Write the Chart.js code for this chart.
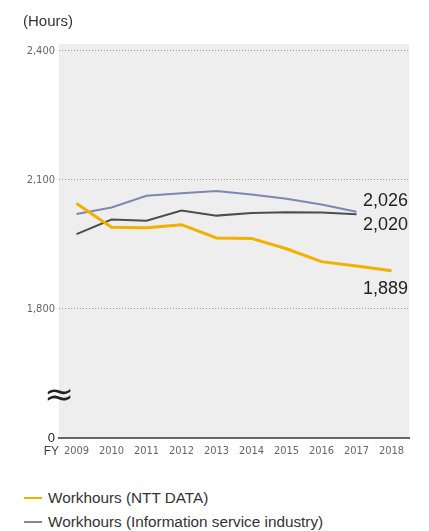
<!DOCTYPE html>
<html>
<head>
<meta charset="utf-8">
<script src="https://cdn.jsdelivr.net/npm/chart.js@4/dist/chart.umd.min.js"></script>
<style>
  html, body { margin: 0; padding: 0; background: #fff; }
  #wrap { position: relative; width: 429px; height: 531px; overflow: hidden; font-family: "Liberation Sans", Arial, sans-serif; }
  #unit { position: absolute; left: 23px; top: 12px; font-size: 15px; color: #333; }
  #chartBox { position: absolute; left: 0; top: 0; width: 429px; height: 470px; }
  .leg { position: absolute; left: 24px; font-size: 15.3px; color: #333; white-space: nowrap; line-height: 17px; }
  .leg span.sw { display: inline-block; width: 18px; height: 2px; vertical-align: middle; margin-right: 6px; position: relative; top: -1px; }
</style>
</head>
<body>
<div id="wrap">
  <div id="chartBox"><canvas id="c" width="429" height="470"></canvas></div>
  <div id="unit">(Hours)</div>
  <div id="legend"></div>
</div>
<script>
// ---- data ----
const years = ['2009','2010','2011','2012','2013','2014','2015','2016','2017','2018'];
const nttData = [2045, 1990, 1989, 1996, 1965, 1964, 1940, 1910, 1900, 1889];
const industry = [2021, 2036, 2063, 2069, 2074, 2066, 2056, 2043, 2026, null];
const otherSeries = [1974, 2008, 2005, 2029, 2017, 2023, 2025, 2024, 2020, null];
const seriesNames = ['Workhours (NTT DATA)', 'Workhours (Information service industry)', 'Workhours (other)'];
const yTickValues = [1500, 1800, 2100, 2400];
const yTickLabels = ['0', '1,800', '2,100', '2,400'];

const colors = ['#F4B000', '#7D87B2', '#4D4D4D'];
const narrow = '"Liberation Sans Narrow", "DejaVu Sans Condensed", sans-serif';

const bgPlugin = {
  id: 'bg',
  beforeDraw(chart) {
    const a = chart.chartArea, ctx = chart.ctx;
    ctx.save();
    ctx.fillStyle = '#eeeeee';
    ctx.fillRect(a.left, a.top, a.right - a.left, a.bottom - a.top);
    ctx.restore();
  }
};

const extrasPlugin = {
  id: 'extras',
  afterDraw(chart) {
    const ctx = chart.ctx, a = chart.chartArea;
    const ys = chart.scales.y;
    ctx.save();
    // break symbol
    ctx.fillStyle = '#222';
    ctx.translate(59, 397);
    ctx.scale(1.8, 1.6);
    ctx.font = '20px "DejaVu Sans", sans-serif';
    ctx.textAlign = 'center';
    ctx.textBaseline = 'middle';
    ctx.fillText('\u2248', 0, 0);
    ctx.restore();
    ctx.save();
    // FY label
    ctx.font = '12px "Liberation Sans", Arial, sans-serif';
    ctx.fillStyle = '#444';
    ctx.textAlign = 'right';
    ctx.textBaseline = 'middle';
    ctx.fillText('FY', 59, a.bottom + 14);
    // end labels
    const offs = [18, -11, 11];
    ctx.font = '18px "Liberation Sans", Arial, sans-serif';
    ctx.fillStyle = '#222';
    ctx.textAlign = 'right';
    chart.data.datasets.forEach((ds, i) => {
      let last = null;
      for (let k = ds.data.length - 1; k >= 0; k--) { if (ds.data[k] != null) { last = ds.data[k]; break; } }
      if (last == null) return;
      const y = ys.getPixelForValue(last) + offs[i];
      ctx.fillText(last.toLocaleString('en-US'), a.right - 1, y);
    });
    ctx.restore();
  }
};

new Chart(document.getElementById('c'), {
  type: 'line',
  data: {
    labels: years,
    datasets: [
      { label: seriesNames[0], data: nttData, borderColor: colors[0], borderWidth: 3, pointRadius: 0, tension: 0 },
      { label: seriesNames[1], data: industry, borderColor: colors[1], borderWidth: 2, pointRadius: 0, tension: 0 },
      { label: seriesNames[2], data: otherSeries, borderColor: colors[2], borderWidth: 2, pointRadius: 0, tension: 0 }
    ]
  },
  options: {
    responsive: false,
    animation: false,
    layout: { padding: { left: 0, right: 20, top: 44, bottom: 12 } },
    plugins: { legend: { display: false }, tooltip: { enabled: false }, title: { display: false } },
    scales: {
      x: {
        offset: true,
        grid: { display: false, drawTicks: false },
        border: { display: true, color: '#666', width: 2 },
        ticks: { color: '#666', font: { family: narrow, size: 11 }, padding: 7, maxRotation: 0, autoSkip: false },
        afterFit(s) { s.height = 20; }
      },
      y: {
        min: 1500, max: 2416,
        afterBuildTicks(s) { s.ticks = yTickValues.map(v => ({ value: v })); },
        afterFit(s) { s.width = 59; },
        grid: { drawTicks: false, color: ctx => (ctx.tick && ctx.tick.value === 1500) ? 'rgba(0,0,0,0)' : '#9a9a9a', lineWidth: 1 },
        border: { display: false, dash: [1, 2] },
        ticks: {
          padding: 4,
          color: ctx => ctx.tick && ctx.tick.value === 1500 ? '#222' : '#666',
          font: ctx => ctx.tick && ctx.tick.value === 1500 ? { family: '"Liberation Sans", Arial, sans-serif', size: 13 } : { family: narrow, size: 11 },
          callback: (v) => { const i = yTickValues.indexOf(v); return i >= 0 ? yTickLabels[i] : ''; }
        }
      }
    }
  },
  plugins: [bgPlugin, extrasPlugin]
});

// HTML legend (two entries as in the reference)
const legend = document.getElementById('legend');
[0, 1].forEach((i, r) => {
  const d = document.createElement('div');
  d.className = 'leg';
  d.style.top = (489 + r * 24) + 'px';
  d.innerHTML = '<span class="sw" style="background:' + colors[i] + '"></span>' + seriesNames[i];
  legend.appendChild(d);
});
</script>
</body>
</html>
